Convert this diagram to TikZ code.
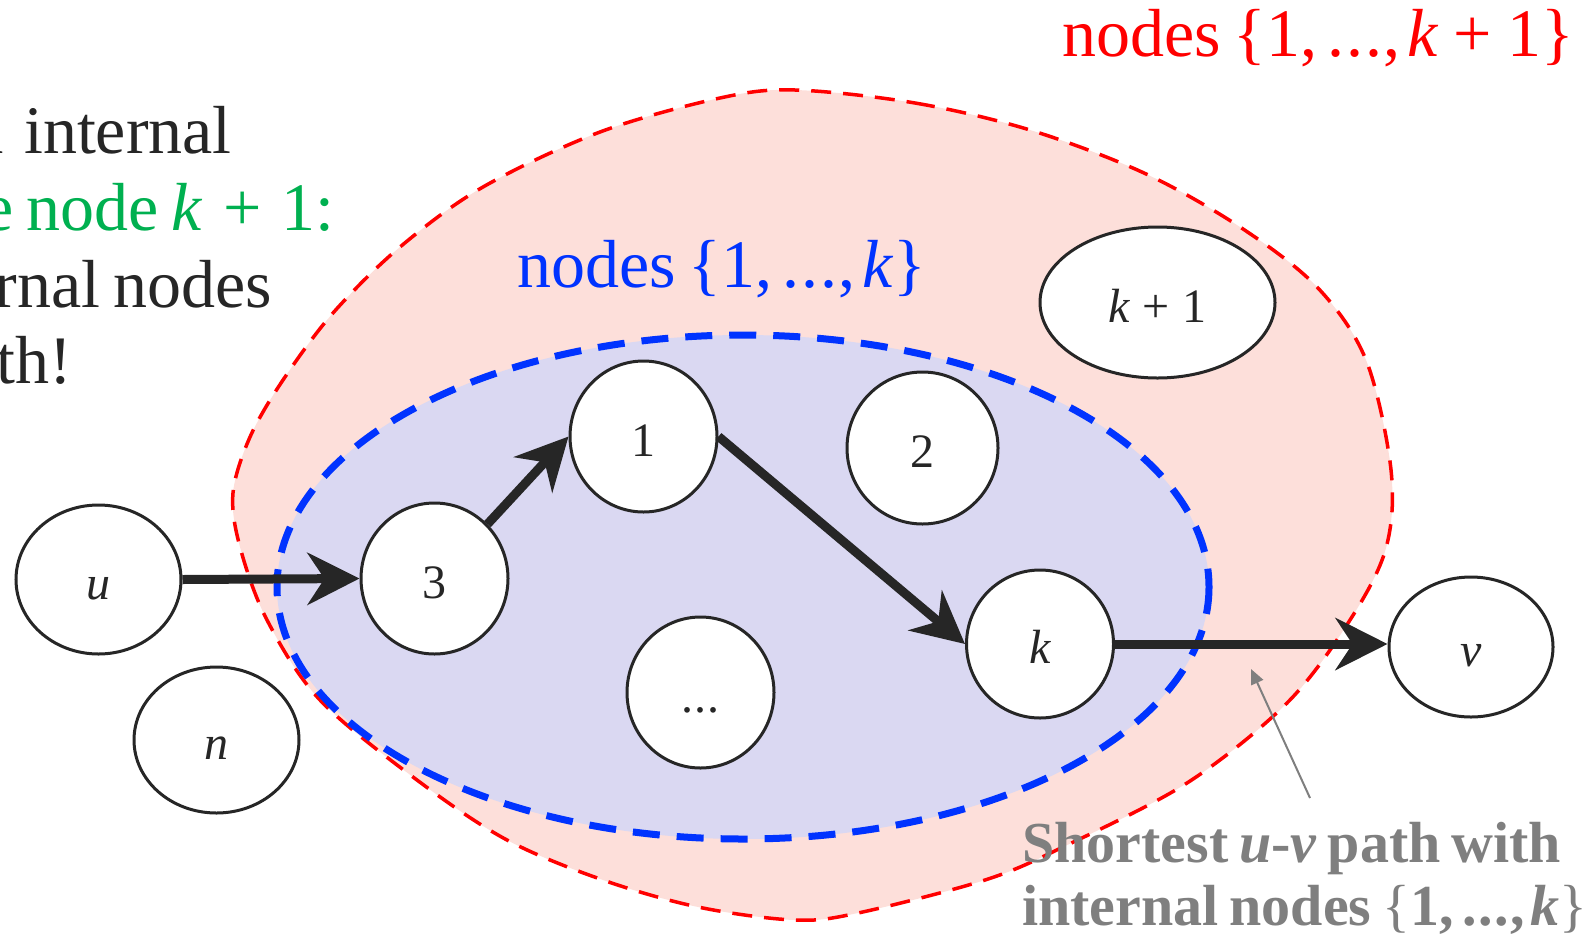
\documentclass[tikz,border=0pt]{standalone}
\usepackage{fontspec}
\setmainfont{Liberation Serif}[WordSpace=0.75]
\usetikzlibrary{arrows.meta,shapes.geometric}

\definecolor{ink}{HTML}{262626}
\definecolor{setred}{HTML}{FF0000}
\definecolor{setredfill}{HTML}{FDDFDA}
\definecolor{setblue}{HTML}{0033FF}
\definecolor{setbluefill}{HTML}{DAD8F2}
\definecolor{casegreen}{HTML}{00B050}
\definecolor{notegray}{HTML}{7F7F7F}

\newcommand\mvar[1]{\textit{#1}}
\newcommand\threedots{.\kern0.03em.\kern0.03em.}
\newcommand\plusone{\kern0.22em+\kern0.22em1}
% {1, ..., #1} with the braces in the regular weight
\newcommand\upto[1]{{\mdseries\{}1,\kern0.15em\threedots\kern0.02em,\kern0.1em#1{\mdseries\}}}

\begin{document}
\begin{tikzpicture}[x=1pt,y=-1pt,
  vert/.style={shape=ellipse, draw=ink, line width=3pt, fill=white,
    inner sep=0pt, text=ink, text height=44pt, text depth=5pt,
    font=\fontsize{48}{56}\selectfont},
  flow/.style={draw=ink, line width=9pt,
    -{Stealth[length=52pt,width=52pt,inset=17pt]}},
  pointer/.style={draw=notegray, line width=2pt,
    -{Triangle[length=15pt,width=13pt]}},
  label/.style={inner sep=0pt, font=\fontsize{68}{78}\selectfont},
  note/.style={inner sep=0pt, text=notegray, font=\fontsize{58}{66}\selectfont\bfseries},
  outerset/.style={draw=setred, fill=setredfill, line width=3.5pt,
    dash pattern=on 20pt off 12pt},
  innerset/.style={draw=setblue, fill=setbluefill, line width=7pt,
    dash pattern=on 27pt off 17pt}
]
\useasboundingbox (0,0) rectangle (1592,940);

% the set of nodes {1,...,k+1}
\path[outerset] plot[smooth cycle, tension=0.55] coordinates {
  (795,90) (915,103) (1030,130) (1144,173) (1240,227) (1317,287)
  (1366,360) (1391,470) (1386,548) (1350,620) (1287,703) (1187,783)
  (1063,847) (985,880) (858,913) (794,920) (698,907) (603,880)
  (507,840) (417,780) (320,700) (267,620) (240,547) (233,493)
  (250,437) (283,380) (333,313) (400,247) (483,187) (600,132) (720,98)};

% the set of nodes {1,...,k}
\path[innerset] (743,587) ellipse [x radius=466, y radius=252];

% set labels
\node[label, text=setred, anchor=base west] (redlab) at (1062,56)
  {nodes \upto{\mvar{k}\plusone}};
\node[label, text=setblue, anchor=base west] (bluelab) at (517,287)
  {nodes \upto{\mvar{k}}};

% explanation on the left
\node[label, text=ink, anchor=base east] (lineA) at (232,153) {a\hspace{0.3em}internal};
\node[label, text=casegreen, anchor=base east] (lineB) at (335,230)
  {Use node \mvar{k}\kern0.3em+\kern0.3em1:};
\node[label, text=ink, anchor=base east] (lineC) at (272,307) {internal nodes};
\node[label, text=ink, anchor=base east] (lineD) at (72,383) {path!};

% vertices
\node[vert, minimum width=165pt, minimum height=149pt] (u)  at (98.5,579.5) {\mvar{u}};
\node[vert, minimum width=165pt, minimum height=146pt] (n)  at (216.5,740) {\mvar{n}};
\node[vert, minimum width=147pt, minimum height=151pt] (n3) at (434.5,578.5) {3};
\node[vert, minimum width=147pt, minimum height=151pt] (n1) at (643.5,436.5) {1};
\node[vert, minimum width=151pt, minimum height=152pt] (n2) at (922.5,448) {2};
\node[vert, minimum width=147pt, minimum height=151pt] (nd) at (700.5,692.5) {\threedots};
\node[vert, minimum width=147pt, minimum height=148pt] (nk) at (1040,644) {\mvar{k}};
\node[vert, minimum width=235pt, minimum height=151pt] (nk1) at (1157.5,302.5) {\mvar{k}\kern0.25em+\kern0.25em1};
\node[vert, minimum width=164pt, minimum height=140pt] (v)  at (1471,647) {\mvar{v}};

% the shortest path
\draw[flow] (u.east) -- (n3.west);
\draw[flow] (n3.north east) -- (n1.west);
\draw[flow] (n1.east) -- (nk.west);
\draw[flow] (nk.east) -- (v.west |- nk.east);

% annotation
\node[note, anchor=base west] (noteA) at (1022,862)
  {Shortest \mvar{u}-\mvar{v} path with};
\node[note, anchor=base west] (noteB) at (1022,925)
  {internal nodes \upto{\mvar{k}}};
\coordinate (tail) at (1310,798);
\coordinate (tip) at (1251,669);
\draw[pointer] (tail) -- (tip);
\end{tikzpicture}
\end{document}
